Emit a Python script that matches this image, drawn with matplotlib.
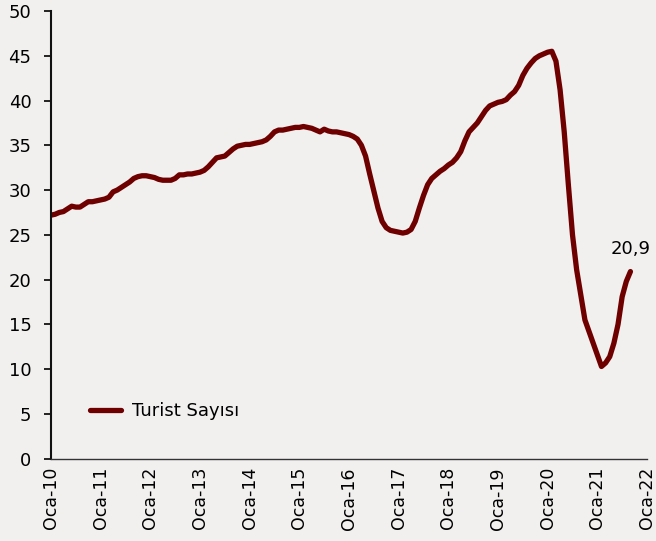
import matplotlib
matplotlib.use("Agg")
import matplotlib.pyplot as plt

# 12 aylik toplam turist sayisi (milyon), Oca-10 .. Eyl-21
turist_sayisi = [
    27.2, 27.3, 27.5, 27.6, 27.9, 28.2, 28.1, 28.1, 28.4, 28.7, 28.7, 28.8,  # 2010
    28.9, 29.0, 29.2, 29.8, 30.0, 30.3, 30.6, 30.9, 31.3, 31.5, 31.6, 31.6,  # 2011
    31.5, 31.4, 31.2, 31.1, 31.1, 31.1, 31.3, 31.7, 31.7, 31.8, 31.8, 31.9,  # 2012
    32.0, 32.2, 32.6, 33.1, 33.6, 33.7, 33.8, 34.2, 34.6, 34.9, 35.0, 35.1,  # 2013
    35.1, 35.2, 35.3, 35.4, 35.6, 36.0, 36.5, 36.7, 36.7, 36.8, 36.9, 37.0,  # 2014
    37.0, 37.1, 37.0, 36.9, 36.7, 36.5, 36.8, 36.6, 36.5, 36.5, 36.4, 36.3,  # 2015
    36.2, 36.0, 35.7, 35.0, 33.8, 31.8, 29.9, 28.0, 26.5, 25.8, 25.5, 25.4,  # 2016
    25.3, 25.2, 25.3, 25.6, 26.5, 28.0, 29.4, 30.6, 31.3, 31.7, 32.1, 32.4,  # 2017
    32.8, 33.1, 33.6, 34.3, 35.5, 36.5, 37.0, 37.5, 38.2, 38.9, 39.4, 39.6,  # 2018
    39.8, 39.9, 40.1, 40.6, 41.0, 41.7, 42.8, 43.6, 44.2, 44.7, 45.0, 45.2,  # 2019
    45.4, 45.5, 44.4, 41.2, 36.5, 30.6, 25.0, 21.1, 18.3, 15.5, 14.2, 12.9,  # 2020
    11.6, 10.3, 10.7, 11.4, 12.9, 15.0, 18.1, 19.8, 20.9,                    # 2021
]
ay = list(range(len(turist_sayisi)))

x_etiketler = ["Oca-10", "Oca-11", "Oca-12", "Oca-13", "Oca-14", "Oca-15", "Oca-16",
               "Oca-17", "Oca-18", "Oca-19", "Oca-20", "Oca-21", "Oca-22"]
x_konum = [12 * i for i in range(len(x_etiketler))]
y_ticks = [0, 5, 10, 15, 20, 25, 30, 35, 40, 45, 50]

renk = "#6E0000"
arka = "#F2F0EF"

fig = plt.figure(figsize=(6.56, 5.41), dpi=100, facecolor=arka)
ax = fig.add_axes([51 / 656, 1 - 458.7 / 541, 596 / 656, (458.7 - 11) / 541])
ax.set_facecolor(arka)

ax.plot(ay, turist_sayisi, color=renk, linewidth=3.8, solid_capstyle="round",
        solid_joinstyle="round", label="Turist Sayısı")

son = turist_sayisi[-1]
ax.annotate(f"{son:.1f}".replace(".", ","), xy=(ay[-1], son), xytext=(0, 10),
            textcoords="offset points", ha="center", va="bottom", fontsize=13)

ax.set_xlim(0, 144)
ax.set_ylim(0, 50)
ax.set_yticks(y_ticks)
ax.set_xticks(x_konum)
ax.set_xticklabels(x_etiketler, rotation=90, fontsize=12.5)
ax.tick_params(axis="y", labelsize=13, length=5, width=1.2, pad=9)
ax.tick_params(axis="x", length=0, pad=6)

for s in ["top", "right"]:
    ax.spines[s].set_visible(False)
ax.spines["left"].set_linewidth(1.5)
ax.spines["left"].set_color("#111111")
ax.spines["bottom"].set_linewidth(1.0)
ax.spines["bottom"].set_color("#333333")

ax.legend(loc="center left", bbox_to_anchor=(39 / 596, 0.1065), frameon=False,
          fontsize=13, borderpad=0, borderaxespad=0, handlelength=1.7,
          handletextpad=0.6)

plt.savefig("out.png", dpi=100, facecolor=arka)
